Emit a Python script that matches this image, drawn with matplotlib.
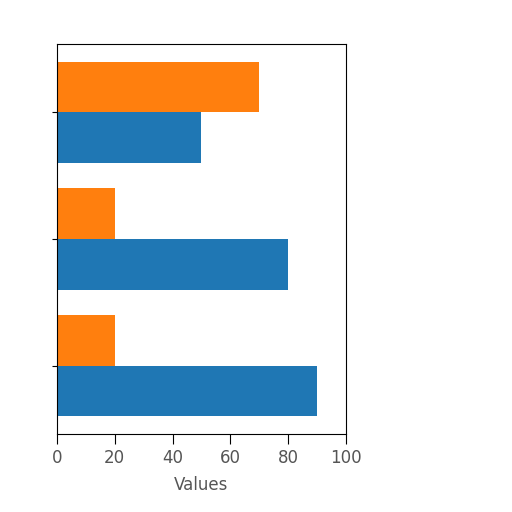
import numpy as np
import matplotlib
matplotlib.use('Agg')
import matplotlib.pyplot as plt

# values per group, bottom group first
groups = ['A', 'B', 'C']
blue_vals = [90, 80, 50]
orange_vals = [20, 20, 70]

y = np.arange(len(groups))
h = 0.4

fig = plt.figure(figsize=(5.12, 5.12), dpi=100)
ax = fig.add_axes([0.111, 0.152, 0.565, 0.762])
ax.barh(y - h / 2, blue_vals, height=h, color='#1f77b4')
ax.barh(y + h / 2, orange_vals, height=h, color='#ff7f0e')

ax.set_xlim(0, 100)
ax.set_yticks(y)
ax.set_yticklabels([])
ax.tick_params(axis='x', length=7, labelsize=12, labelcolor='#555555', pad=4)
ax.set_xlabel('Values', fontsize=12, color='#555555', labelpad=6)

fig.savefig('out.png', dpi=100)
